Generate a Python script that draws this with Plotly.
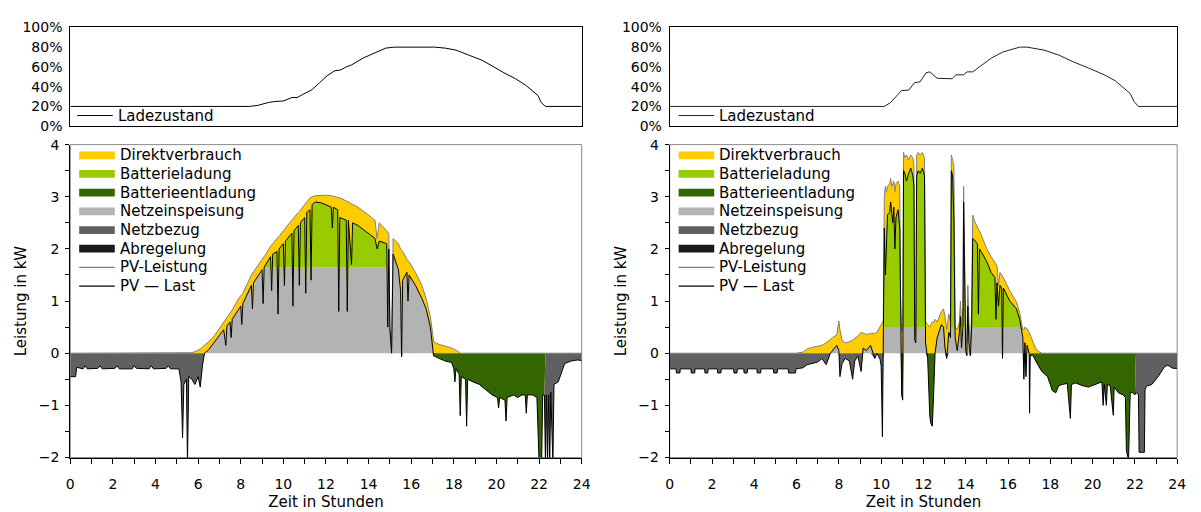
import numpy as np
import plotly.graph_objects as go

# ---------------- Left day (sunny) ----------------
t_L = [0.00, 0.25, 0.30, 0.60, 0.70, 0.80, 1.30, 1.40, 1.50, 2.10,
       2.20, 2.30, 2.90, 3.00, 3.10, 3.70, 3.80, 3.90, 4.50, 4.60,
       4.70, 5.10, 5.20, 5.27, 5.33, 5.45, 5.50, 5.56, 5.70, 5.85,
       6.00, 6.10, 6.20, 6.30, 6.50, 6.75, 7.00, 7.20, 7.30, 7.35,
       7.50, 7.55, 7.60, 7.90, 8.00, 8.05, 8.10, 8.50, 8.55, 8.60,
       9.00, 9.05, 9.10, 9.40, 9.45, 9.50, 9.70, 9.75, 9.80, 10.00,
       10.05, 10.10, 10.40, 10.45, 10.50, 10.70, 10.75, 10.80, 11.00, 11.05,
       11.10, 11.25, 11.30, 11.35, 11.50, 11.80, 12.00, 12.25, 12.30, 12.35,
       12.55, 12.60, 12.65, 12.95, 13.00, 13.05, 13.20, 13.25, 13.50, 14.00,
       14.30, 14.40, 14.50, 14.85, 14.90, 14.95, 15.00, 15.08, 15.15, 15.40,
       15.50, 15.55, 15.60, 15.80, 15.85, 15.90, 16.20, 16.50, 16.70, 16.90,
       17.00, 17.05, 17.30, 17.60, 17.90, 18.00, 18.05, 18.10, 18.25, 18.30,
       18.35, 18.55, 18.60, 18.65, 18.90, 19.20, 19.50, 19.80, 20.05, 20.10,
       20.15, 20.40, 20.45, 20.50, 20.80, 21.00, 21.20, 21.35, 21.40, 21.45,
       21.70, 21.90, 22.00, 22.12, 22.17, 22.25, 22.30, 22.34, 22.40, 22.45,
       22.50, 22.55, 22.65, 22.70, 22.90, 23.10, 23.20, 23.50, 23.80, 24.00]
pv_L = [0, 0, 0, 0, 0, 0, 0, 0, 0, 0,
        0, 0, 0, 0, 0, 0, 0, 0, 0, 0,
        0, 0, 0, 0, 0, 0, 0, 0, 0.01, 0.03,
        0.06, 0.08, 0.12, 0.15, 0.22, 0.33, 0.48, 0.60, 0.66, 0.68,
        0.78, 0.80, 0.83, 1.05, 1.10, 1.12, 1.15, 1.50, 1.52, 1.56,
        1.80, 1.82, 1.85, 2.05, 2.07, 2.10, 2.20, 2.22, 2.24, 2.35,
        2.37, 2.40, 2.55, 2.57, 2.60, 2.70, 2.72, 2.74, 2.85, 2.87,
        2.90, 2.98, 3.00, 3.00, 3.02, 3.03, 3.03, 3.02, 3.02, 3.01,
        2.99, 2.99, 2.98, 2.92, 2.91, 2.90, 2.87, 2.86, 2.80, 2.65,
        2.55, 2.20, 2.50, 2.35, 2.30, 2.28, 0.50, 0.10, 2.20, 2.10,
        2.00, 1.98, 1.95, 1.80, 1.78, 1.75, 1.55, 1.30, 1.05, 0.70,
        0.40, 0.22, 0.17, 0.14, 0.10, 0.08, 0.07, 0.06, 0.02, 0.00,
        0, 0, 0, 0, 0, 0, 0, 0, 0, 0,
        0, 0, 0, 0, 0, 0, 0, 0, 0, 0,
        0, 0, 0, 0, 0, 0, 0, 0, 0, 0,
        0, 0, 0, 0, 0, 0, 0, 0, 0, 0]
net_L = [-0.45, -0.45, -0.27, -0.30, -0.24, -0.30, -0.29, -0.24, -0.30, -0.29,
         -0.24, -0.30, -0.30, -0.24, -0.29, -0.30, -0.24, -0.30, -0.29, -0.24,
         -0.30, -0.30, -0.55, -1.62, -0.60, -0.50, -2.10, -0.45, -0.50, -0.60,
         -0.45, -0.65, -0.25, 0.00, 0.07, 0.20, 0.35, 0.45, 0.15, 0.52,
         0.60, 0.30, 0.65, 0.85, 0.90, 0.55, 0.95, 1.30, 0.85, 1.35,
         1.60, 0.95, 1.65, 1.85, 1.20, 1.90, 1.95, 0.75, 2.00, 2.10,
         1.30, 2.15, 2.30, 0.90, 2.35, 2.45, 1.30, 2.50, 2.60, 1.15,
         2.70, 2.75, 1.40, 2.85, 2.90, 2.88, 2.85, 2.80, 2.40, 2.80,
         2.75, 0.80, 2.60, 2.55, 0.80, 2.55, 1.70, 2.50, 2.45, 2.30,
         2.20, 2.00, 2.15, 2.10, 0.50, 2.00, 0.45, 0.00, 1.90, 1.60,
         1.20, -0.07, 1.40, 1.55, 1.00, 1.50, 1.30, 1.05, 0.85, 0.50,
         0.20, -0.05, -0.10, -0.15, -0.18, -0.30, -0.55, -0.30, -0.40, -1.20,
         -0.45, -0.50, -1.40, -0.50, -0.55, -0.60, -0.70, -0.80, -0.85, -1.05,
         -0.85, -0.90, -1.30, -0.85, -0.80, -0.85, -0.80, -0.80, -1.15, -0.80,
         -0.80, -0.85, -2.10, -2.10, -0.80, -0.80, -2.10, -0.80, -2.10, -0.80,
         -2.10, -0.75, -2.10, -0.60, -0.55, -0.30, -0.20, -0.15, -0.13, -0.14]
abregelung_L = [0.0] * len(t_L)
feed_limit_L = 1.65
charge_window_L = (8.0, 14.97)
discharge_window_L = (15.0, 22.26)

soc_t_L = [0, 8.4, 8.8, 9.3, 9.6, 10.0, 10.4, 10.65, 10.9, 11.35,
           11.7, 12.05, 12.4, 12.7, 12.95, 13.2, 13.75, 14.3, 14.8, 15.2,
           17.1, 17.6, 18.1, 18.75, 19.3, 19.8, 20.35, 20.9, 21.4, 21.95,
           22.1, 22.3, 24]
soc_L = [20, 20, 21, 24, 25, 25.5, 29, 29, 32, 37,
         44, 51, 56, 57, 60, 62, 69, 74, 79, 80,
         80, 79, 77, 71.5, 67, 61, 54, 48, 41, 31,
         24, 20, 20]

# ---------------- Right day (cloudy) ----------------
t_R = [0.00, 0.30, 0.32, 0.48, 0.50, 1.00, 1.02, 1.18, 1.20, 1.65,
       1.67, 1.80, 1.82, 2.25, 2.27, 2.42, 2.44, 3.02, 3.04, 3.18,
       3.20, 3.50, 3.52, 3.66, 3.68, 4.12, 4.14, 4.30, 4.32, 4.90,
       4.92, 5.08, 5.10, 5.60, 5.62, 5.95, 5.97, 6.30, 6.50, 6.70,
       7.00, 7.20, 7.40, 7.60, 7.70, 7.90, 8.00, 8.05, 8.15, 8.30,
       8.50, 8.65, 8.75, 8.90, 9.05, 9.15, 9.30, 9.50, 9.70, 9.80,
       9.95, 10.00, 10.06, 10.10, 10.15, 10.20, 10.25, 10.30, 10.40, 10.45,
       10.50, 10.55, 10.60, 10.65, 10.70, 10.80, 10.88, 10.92, 10.97, 11.02,
       11.06, 11.12, 11.20, 11.30, 11.40, 11.50, 11.55, 11.59, 11.64, 11.68,
       11.75, 11.85, 11.95, 12.05, 12.10, 12.20, 12.30, 12.35, 12.42, 12.48,
       12.55, 12.65, 12.75, 12.85, 12.95, 13.02, 13.10, 13.20, 13.28, 13.32,
       13.38, 13.44, 13.50, 13.60, 13.70, 13.75, 13.80, 13.87, 13.90, 13.95,
       14.00, 14.05, 14.10, 14.15, 14.22, 14.28, 14.33, 14.45, 14.55, 14.60,
       14.65, 14.80, 15.00, 15.20, 15.38, 15.43, 15.48, 15.55, 15.62, 15.70,
       15.74, 15.78, 16.08, 16.40, 16.55, 16.70, 16.75, 16.80, 16.85, 16.90,
       17.00, 17.02, 17.05, 17.17, 17.30, 17.45, 17.60, 17.87, 18.00, 18.10,
       18.26, 18.40, 18.57, 18.80, 18.95, 19.00, 19.20, 19.50, 19.80, 20.10,
       20.44, 20.50, 20.55, 20.65, 20.70, 20.83, 20.98, 21.02, 21.22, 21.45,
       21.55, 21.60, 21.70, 21.78, 21.90, 22.00, 22.05, 22.17, 22.20, 22.45,
       22.48, 22.55, 22.80, 23.10, 23.40, 23.56, 23.80, 24.00]
pv_R = [0, 0, 0, 0, 0, 0, 0, 0, 0, 0,
        0, 0, 0, 0, 0, 0, 0, 0, 0, 0,
        0, 0, 0, 0, 0, 0, 0, 0, 0, 0,
        0, 0, 0, 0, 0, 0, 0, 0.02, 0.08, 0.11,
        0.14, 0.15, 0.20, 0.28, 0.30, 0.35, 0.62, 0.45, 0.25, 0.20,
        0.22, 0.25, 0.28, 0.33, 0.40, 0.38, 0.36, 0.38, 0.38, 0.40,
        0.52, 0.55, 0.60, 0.62, 3.00, 3.20, 3.10, 3.20, 3.25, 3.35,
        3.20, 3.25, 3.30, 3.10, 3.25, 3.30, 3.20, 1.00, 0.40, 0.50,
        3.85, 3.75, 3.80, 3.70, 3.80, 3.75, 3.60, 0.40, 0.35, 3.80,
        3.85, 3.80, 3.85, 3.75, 0.60, 0.55, 0.50, 0.55, 0.60, 0.60,
        0.65, 0.60, 0.70, 0.80, 0.85, 0.70, 0.45, 0.75, 0.60, 3.80,
        3.70, 3.60, 0.50, 0.45, 0.60, 1.00, 0.50, 0.90, 3.20, 2.00,
        0.30, 0.20, 1.30, 0.60, 0.15, 0.80, 2.65, 2.50, 2.40, 2.38,
        2.35, 2.20, 2.00, 1.85, 1.75, 1.70, 1.68, 1.30, 1.55, 1.50,
        1.48, 1.45, 1.20, 0.98, 0.78, 0.45, 0.45, 0.50, 0.48, 0.47,
        0.40, 0.38, 0.35, 0.20, 0.10, 0.03, 0.00, 0, 0, 0,
        0, 0, 0, 0, 0, 0, 0, 0, 0, 0,
        0, 0, 0, 0, 0, 0, 0, 0, 0, 0,
        0, 0, 0, 0, 0, 0, 0, 0, 0, 0,
        0, 0, 0, 0, 0, 0, 0, 0]
net_R = [-0.30, -0.30, -0.38, -0.38, -0.30, -0.30, -0.38, -0.38, -0.30, -0.30,
         -0.38, -0.38, -0.30, -0.30, -0.38, -0.38, -0.30, -0.30, -0.38, -0.38,
         -0.30, -0.30, -0.38, -0.38, -0.30, -0.30, -0.38, -0.38, -0.30, -0.30,
         -0.38, -0.38, -0.30, -0.30, -0.38, -0.38, -0.30, -0.28, -0.22, -0.20,
         -0.17, -0.10, -0.22, 0.00, 0.05, 0.15, 0.05, -0.45, -0.20, -0.10,
         -0.15, -0.50, -0.15, -0.05, -0.35, 0.10, 0.05, 0.15, -0.10, 0.00,
         -0.12, -0.25, -1.60, -0.10, 2.40, 1.50, 2.30, 2.65, 2.70, 2.90,
         2.70, 2.50, 2.80, 2.00, 2.60, 2.75, 2.40, 0.60, -0.80, -0.90,
         3.50, 3.45, 3.30, 3.45, 3.55, 3.40, 3.20, 0.25, 0.20, 3.40,
         3.50, 3.45, 3.55, 3.40, 0.20, -0.10, -1.20, -1.35, -1.40, -0.80,
         0.00, 0.30, 0.45, 0.55, 0.50, 0.10, -0.10, 0.40, 0.30, 3.50,
         3.40, 2.50, 0.30, 0.05, 0.40, 0.70, 0.10, 0.50, 2.90, 1.60,
         0.05, -0.05, 0.90, 0.20, -0.05, 0.50, 2.20, 2.15, 2.10, 0.75,
         2.00, 1.90, 1.75, 1.55, 1.45, 0.65, 1.35, 0.90, 1.30, 1.25,
         -0.10, 1.25, 1.00, 0.85, 0.65, 0.30, -0.50, 0.20, -0.45, 0.15,
         0.00, -1.15, -0.05, -0.04, -0.15, -0.25, -0.35, -0.45, -0.60, -0.72,
         -0.76, -0.62, -0.60, -0.58, -1.25, -0.60, -0.57, -0.62, -0.65, -0.60,
         -0.55, -1.00, -0.60, -1.00, -0.60, -0.62, -1.19, -0.65, -0.76, -0.80,
         -0.85, -1.87, -2.05, -0.75, -0.76, -0.80, -0.75, -0.80, -1.90, -1.90,
         -0.70, -0.63, -0.60, -0.45, -0.26, -0.23, -0.29, -0.29]
abregelung_R = [0.0] * len(t_R)
feed_limit_R = 0.5
charge_window_R = (10.12, 16.8)
discharge_window_R = (10.3, 22.02)

soc_t_R = [0, 10.15, 10.45, 10.8, 10.96, 11.3, 11.58, 11.85, 12.12, 12.3,
           12.47, 12.65, 13.36, 13.53, 13.9, 14.07, 14.33, 14.7, 15.22, 15.75,
           16.1, 16.55, 16.9, 17.7, 18.4, 19.1, 19.85, 20.55, 21.07, 21.5,
           21.78, 21.96, 22.17, 24]
soc_R = [20, 20, 24, 32, 36, 36.5, 44, 45, 54, 55,
         52, 48.5, 48, 52, 52, 55, 55, 61, 69, 75,
         77.5, 80, 80, 77, 72, 65, 58.5, 52, 46, 38,
         33, 25, 20, 20]

x_ticks = [0, 2, 4, 6, 8, 10, 12, 14, 16, 18, 20, 22, 24]
kw_ticks = [-2, -1, 0, 1, 2, 3, 4]
soc_ticks = [0, 20, 40, 60, 80, 100]
soc_ticktext = ["0%", "20%", "40%", "60%", "80%", "100%"]

legend_names = ["Direktverbrauch", "Batterieladung", "Batterieentladung", "Netzeinspeisung",
                "Netzbezug", "Abregelung", "PV-Leistung", "PV \u2014 Last"]
soc_legend_name = "Ladezustand"

# ---------------- styling ----------------
FONT = "DejaVu Sans, Verdana, sans-serif"
C_DIREKT = "#FFCC00"
C_LAD = "#99CC00"
C_ENTL = "#336600"
C_EINSP = "#B3B3B3"
C_BEZUG = "#606060"
C_ABREG = "#1A1A1A"
C_PV = "#808080"
C_NET = "#000000"
legend_styles = [("area", C_DIREKT), ("area", C_LAD), ("area", C_ENTL), ("area", C_EINSP),
                 ("area", C_BEZUG), ("area", C_ABREG), ("line", C_PV), ("line", C_NET)]

W, H = 1201, 512
fig = go.Figure()


def layers(t, pv, net, abreg, limit, cw, dw):
    t = np.asarray(t, float)
    pv = np.asarray(pv, float)
    net = np.asarray(net, float)
    abreg = np.asarray(abreg, float)
    charging = (t >= cw[0]) & (t <= cw[1]) & (net > limit)
    charge = np.where(charging, net - limit, 0.0)
    feed_top = np.where(net > 0, net - charge, 0.0)
    pos_top = np.maximum(net, 0.0)
    pv_top = np.maximum(pv, pos_top)
    ab_top = pv_top + abreg
    discharging = (t >= dw[0]) & (t <= dw[1]) & (net < 0)
    dis_bot = np.where(discharging, net, 0.0)
    neg_bot = np.minimum(net, 0.0)
    return t, pv, net, feed_top, pos_top, pv_top, ab_top, dis_bot, neg_bot


def add_power(xa, ya, t, pv, net, abreg, limit, cw, dw):
    t, pv, net, feed_top, pos_top, pv_top, ab_top, dis_bot, neg_bot = layers(
        t, pv, net, abreg, limit, cw, dw)
    zero = np.zeros_like(t)
    common = dict(mode="lines", line=dict(width=0), xaxis=xa, yaxis=ya,
                  showlegend=False, hoverinfo="skip")
    fig.add_trace(go.Scatter(x=t, y=zero, **common))
    fig.add_trace(go.Scatter(x=t, y=feed_top, fill="tonexty", fillcolor=C_EINSP,
                             name="Netzeinspeisung", **common))
    fig.add_trace(go.Scatter(x=t, y=pos_top, fill="tonexty", fillcolor=C_LAD,
                             name="Batterieladung", **common))
    fig.add_trace(go.Scatter(x=t, y=pv_top, fill="tonexty", fillcolor=C_DIREKT,
                             name="Direktverbrauch", **common))
    fig.add_trace(go.Scatter(x=t, y=ab_top, fill="tonexty", fillcolor=C_ABREG,
                             name="Abregelung", **common))
    fig.add_trace(go.Scatter(x=t, y=zero, **common))
    fig.add_trace(go.Scatter(x=t, y=dis_bot, fill="tonexty", fillcolor=C_ENTL,
                             name="Batterieentladung", **common))
    fig.add_trace(go.Scatter(x=t, y=neg_bot, fill="tonexty", fillcolor=C_BEZUG,
                             name="Netzbezug", **common))
    fig.add_trace(go.Scatter(x=t, y=pv, mode="lines", name="PV-Leistung", showlegend=False,
                             line=dict(color=C_PV, width=1), xaxis=xa, yaxis=ya))
    fig.add_trace(go.Scatter(x=t, y=net, mode="lines", name="PV \u2014 Last", showlegend=False,
                             line=dict(color=C_NET, width=1), xaxis=xa, yaxis=ya))


fig.add_trace(go.Scatter(x=soc_t_L, y=soc_L, mode="lines", name=soc_legend_name, showlegend=False,
                         line=dict(color="#000000", width=1), xaxis="x", yaxis="y"))
fig.add_trace(go.Scatter(x=soc_t_R, y=soc_R, mode="lines", name=soc_legend_name, showlegend=False,
                         line=dict(color="#222222", width=1), xaxis="x2", yaxis="y2"))

add_power("x3", "y3", t_L, pv_L, net_L, abregelung_L, feed_limit_L,
          charge_window_L, discharge_window_L)
add_power("x4", "y4", t_R, pv_R, net_R, abregelung_R, feed_limit_R,
          charge_window_R, discharge_window_R)

xl = [67 / W, 584 / W]
xr = [673 / W, 1186 / W]
y_top = [1 - 122 / H, 1 - 20 / H]
y_bot = [1 - 464 / H, 1 - 141 / H]

tickfont = dict(family=FONT, size=14, color="#000000")
titlefont = dict(family=FONT, size=15, color="#000000")
soc_x = dict(range=[0, 24], showticklabels=False, ticks="", showline=True, mirror=True,
             linecolor="#000000", linewidth=1, showgrid=False, zeroline=False)
soc_y = dict(range=[0, 100], tickvals=soc_ticks, ticktext=soc_ticktext, showline=True,
             mirror=True, linecolor="#000000", linewidth=1, showgrid=False, zeroline=False,
             ticks="", tickfont=tickfont, ticklabelstandoff=4)
pow_x = dict(range=[0, 24], tickvals=x_ticks, ticks="outside", ticklen=5, tickcolor="#000000",
             minor=dict(dtick=1, ticks="outside", ticklen=5, tickcolor="#000000"),
             showline=True, linecolor="#000000", linewidth=1, showgrid=False, zeroline=False,
             tickfont=tickfont, ticklabelstandoff=9,
             title=dict(text="Zeit in Stunden", font=titlefont, standoff=5))
pow_y = dict(range=[-2, 4], tickvals=kw_ticks, ticks="outside", ticklen=4, tickcolor="#000000",
             minor=dict(dtick=0.5, ticks="outside", ticklen=4, tickcolor="#000000"),
             showline=True, linecolor="#000000", linewidth=1, showgrid=False, zeroline=False,
             tickfont=tickfont, ticklabelstandoff=3,
             title=dict(text="Leistung in kW", font=titlefont, standoff=8))

# ---- legends (drawn in pixel positions) ----
shapes = [
    dict(type="rect", xref="paper", yref="paper", x0=xl[0], x1=xl[1], y0=y_bot[0], y1=y_bot[1],
         line=dict(color="#8C8C8C", width=1), layer="below"),
    dict(type="rect", xref="paper", yref="paper", x0=xr[0], x1=xr[1], y0=y_bot[0], y1=y_bot[1],
         line=dict(color="#8C8C8C", width=1), layer="below"),
]
annotations = []


def px(xp):
    return xp / W


def py(yp):
    return 1 - yp / H


def add_legend_item(x0, yc, kind, color, text, lw=1):
    if kind == "area":
        shapes.append(dict(type="rect", xref="paper", yref="paper", x0=px(x0), x1=px(x0 + 36),
                           y0=py(yc + 4), y1=py(yc - 4), fillcolor=color, line=dict(width=0)))
    else:
        shapes.append(dict(type="line", xref="paper", yref="paper", x0=px(x0), x1=px(x0 + 36),
                           y0=py(yc), y1=py(yc), line=dict(color=color, width=lw)))
    annotations.append(dict(text=text, xref="paper", yref="paper", x=px(x0 + 39), y=py(yc),
                            xanchor="left", yanchor="middle", showarrow=False,
                            font=dict(family=FONT, size=15, color="#000000")))


for x0 in (76, 682):
    for i, (name, (kind, col)) in enumerate(zip(legend_names, legend_styles)):
        add_legend_item(x0, 152 + 19.3 * i, kind, col, name, lw=1.3)
add_legend_item(74, 111, "line", "#000000", soc_legend_name)
add_legend_item(682, 111, "line", "#222222", soc_legend_name)

fig.update_layout(
    width=W, height=H,
    margin=dict(l=0, r=0, t=0, b=0),
    paper_bgcolor="#FFFFFF", plot_bgcolor="#FFFFFF",
    font=dict(family=FONT, size=14, color="#000000"),
    hovermode=False,
    showlegend=False,
    xaxis=dict(domain=xl, anchor="y", **soc_x),
    yaxis=dict(domain=y_top, anchor="x", **soc_y),
    xaxis2=dict(domain=xr, anchor="y2", **soc_x),
    yaxis2=dict(domain=y_top, anchor="x2", **soc_y),
    xaxis3=dict(domain=xl, anchor="y3", **pow_x),
    yaxis3=dict(domain=y_bot, anchor="x3", **pow_y),
    xaxis4=dict(domain=xr, anchor="y4", **pow_x),
    yaxis4=dict(domain=y_bot, anchor="x4", **pow_y),
    shapes=shapes,
    annotations=annotations,
)

fig.write_html("out.html")
